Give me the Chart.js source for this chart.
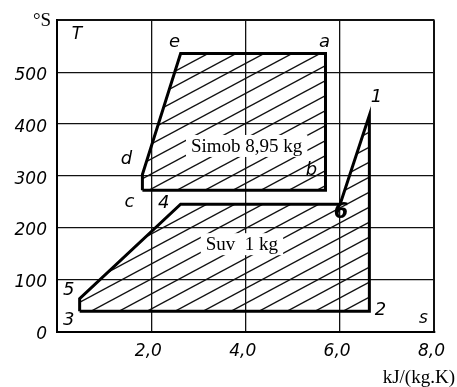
<!DOCTYPE html>
<html>
<head>
<meta charset="utf-8">
<script src="https://cdn.jsdelivr.net/npm/chart.js@4.4.1/dist/chart.umd.min.js"></script>
<style>
  html, body { margin: 0; padding: 0; background: #fff; }
  canvas { display: block; }
</style>
</head>
<body>
<canvas id="c" width="457" height="387"></canvas>
<script>
// State points of the binary cycle: entropy s, kJ/(kg.K), and temperature T, °C
const stateNames = ['1', '2', '3', '4', '5', '6', 'a', 'b', 'c', 'd', 'e'];
const stateS     = [6.62, 6.62, 0.48, 2.62, 0.48, 6.00, 5.69, 5.69, 1.81, 1.81, 2.62];
const stateT     = [417,  40,   40,   246,  64,   246,  536,  273,  273,  303,  536];

// Contours traced through the states
const mercuryLoop = ['c', 'd', 'e', 'a', 'b', 'c'];
const waterLoop   = ['3', '5', '4', '6', '1', '2', '3'];

// Axis ticks
const sTickValues = [2, 4, 6, 8];
const sTickLabels = ['2,0', '4,0', '6,0', '8,0'];
const tTickValues = [0, 100, 200, 300, 400, 500];
const tTickLabels = ['0', '100', '200', '300', '400', '500'];

const loopCaptions = ['Simob 8,95 kg', 'Suv  1 kg'];

function statePoint(name) {
  const i = stateNames.indexOf(name);
  return { x: stateS[i], y: stateT[i] };
}

// Diagonal hatching used to fill both loops
function makeHatch() {
  const w = 28, h = 15;
  const c = document.createElement('canvas');
  c.width = w; c.height = h;
  const g = c.getContext('2d');
  g.strokeStyle = '#111';
  g.lineWidth = 1.4;
  for (let k = -1; k <= 1; k++) {
    g.beginPath();
    g.moveTo(-w, 2 * h + k * h);
    g.lineTo(2 * w, -h + k * h);
    g.stroke();
  }
  return g.createPattern(c, 'repeat');
}
const hatch = makeHatch();

const italicFont = '"DejaVu Sans", sans-serif';
const serifFont = '"Liberation Serif", "Times New Roman", serif';

// Letter markers next to each state, offsets in pixels from the state point
const markerOffsets = {
  'e': [-6, -11], 'a': [-1, -11], 'd': [-16, -15], 'b': [-14, -20],
  'c': [-13, 12], '4': [-17, -1], '5': [-11, -8], '3': [-11, 9],
  '2': [11, -1], '1': [7, -18], '6': [1, 8]
};

const annotations = {
  id: 'annotations',
  afterDatasetsDraw(chart) {
    const { ctx, scales: { x, y }, chartArea } = chart;
    ctx.save();
    ctx.fillStyle = '#000';
    ctx.textAlign = 'center';
    ctx.textBaseline = 'middle';

    // Loop captions on a white knock-out
    const captionAt = [[4.02, 358], [3.92, 169]];
    ctx.font = '19px ' + serifFont;
    loopCaptions.forEach((txt, i) => {
      const px = x.getPixelForValue(captionAt[i][0]);
      const py = y.getPixelForValue(captionAt[i][1]);
      const w = ctx.measureText(txt).width;
      ctx.fillStyle = '#fff';
      ctx.fillRect(px - w / 2 - 5, py - 11, w + 10, 22);
      ctx.fillStyle = '#000';
      ctx.fillText(txt, px, py + 1);
    });

    // State letters
    stateNames.forEach((name, i) => {
      const off = markerOffsets[name];
      const px = x.getPixelForValue(stateS[i]) + off[0];
      const py = y.getPixelForValue(stateT[i]) + off[1];
      ctx.font = (name === '6' ? 'italic bold 21px ' : 'italic 18px ') + italicFont;
      ctx.fillText(name, px, py);
    });

    // Axis symbols
    ctx.font = 'italic 17px ' + italicFont;
    ctx.fillText('T', chartArea.left + 20, chartArea.top + 14);
    ctx.fillText('s', chartArea.right - 11, chartArea.bottom - 13);

    ctx.font = '19px ' + serifFont;
    ctx.fillText('\u00B0S', 42, 21);
    ctx.textAlign = 'right';
    ctx.fillText('kJ/(kg.K)', 455, 378);
    ctx.restore();
  }
};

function loopDataset(names) {
  return {
    data: names.map(statePoint),
    showLine: true,
    fill: 'shape',
    backgroundColor: hatch,
    borderColor: '#000',
    borderWidth: 3,
    borderJoinStyle: 'miter',
    pointRadius: 0,
    tension: 0
  };
}

new Chart(document.getElementById('c'), {
  type: 'line',
  data: {
    datasets: [loopDataset(mercuryLoop), loopDataset(waterLoop)]
  },
  options: {
    responsive: false,
    animation: false,
    devicePixelRatio: 1,
    layout: { padding: { top: 15, right: 16, left: 0, bottom: 0 } },
    plugins: { legend: { display: false }, tooltip: { enabled: false } },
    scales: {
      x: {
        type: 'linear',
        min: 0, max: 8,
        afterFit(scale) { scale.height = 55; },
        afterBuildTicks(scale) {
          scale.ticks = [0].concat(sTickValues).map(v => ({ value: v }));
        },
        grid: {
          color: '#111',
          lineWidth: c => (c.tick && c.tick.value === 8 ? 2 : 1.3),
          drawTicks: false
        },
        border: { display: true, color: '#000', width: 2 },
        ticks: {
          padding: 9,
          labelOffset: -3,
          color: '#000',
          maxRotation: 0,
          autoSkip: false,
          font: { family: italicFont, size: 17, style: 'italic' },
          callback: v => {
            const i = sTickValues.indexOf(v);
            return i >= 0 ? sTickLabels[i] : '';
          }
        }
      },
      y: {
        type: 'linear',
        min: 0, max: 600,
        afterFit(scale) { scale.width = 57; },
        afterBuildTicks(scale) {
          scale.ticks = tTickValues.concat([600]).map(v => ({ value: v }));
        },
        grid: {
          color: '#111',
          lineWidth: c => (c.tick && c.tick.value === 600 ? 2 : 1.3),
          drawTicks: false
        },
        border: { display: true, color: '#000', width: 2 },
        ticks: {
          padding: 10,
          labelOffset: 3,
          color: '#000',
          autoSkip: false,
          font: { family: italicFont, size: 17, style: 'italic' },
          callback: v => {
            const i = tTickValues.indexOf(v);
            return i >= 0 ? tTickLabels[i] : '';
          }
        }
      }
    }
  },
  plugins: [annotations]
});
</script>
</body>
</html>
